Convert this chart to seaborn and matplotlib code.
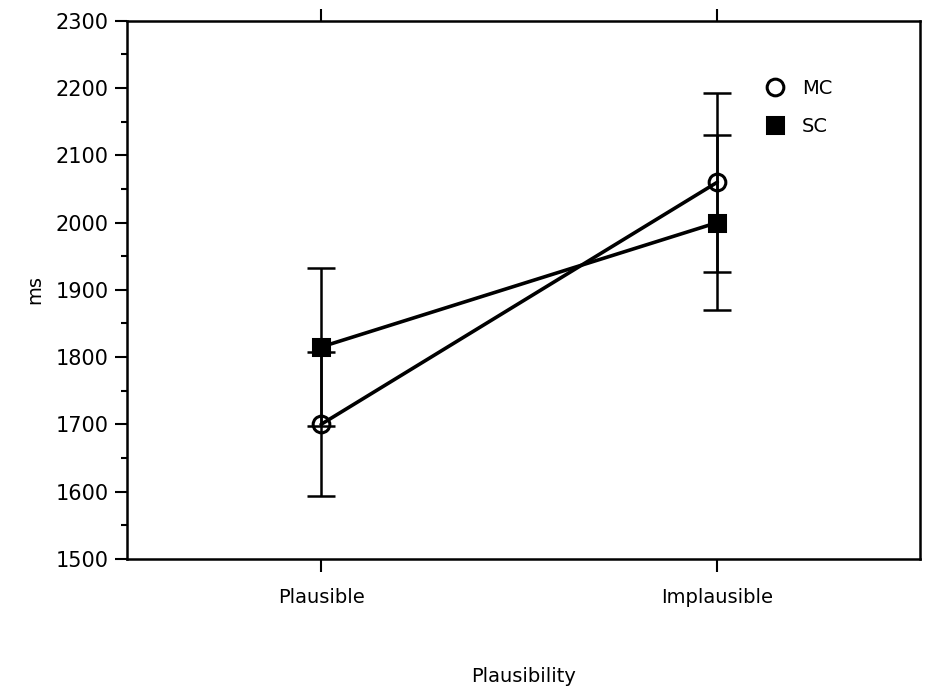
import matplotlib
matplotlib.use("Agg")
import matplotlib.pyplot as plt
import numpy as np
import pandas as pd
import seaborn as sns
from matplotlib.ticker import MultipleLocator

sns.set_theme(style="ticks")
plt.rcParams["font.family"] = ["DejaVu Sans"]
plt.rcParams["text.color"] = "black"
plt.rcParams["axes.labelcolor"] = "black"
plt.rcParams["xtick.color"] = "black"
plt.rcParams["ytick.color"] = "black"

# Daten
conditions = ["Plausible", "Implausible"]
groups = ["MC", "SC"]
mc_means = [1700, 2060]
sc_means = [1815, 2000]
mc_err = [107, 133]
sc_err = [118, 130]

df = pd.DataFrame({
    "pos": list(range(len(conditions))) * 2,
    "ms": mc_means + sc_means,
    "err": mc_err + sc_err,
    "group": [g for g in groups for _ in conditions],
})

fig = plt.figure(figsize=(9.26, 6.9), dpi=100)
ax = fig.add_axes([0.137, 0.19, 0.856, 0.78])

# Fehlerbalken zuerst, damit die Marker darüber liegen
for g in groups:
    sub = df[df["group"] == g]
    ax.errorbar(sub["pos"], sub["ms"], yerr=sub["err"], fmt="none",
                ecolor="black", elinewidth=1.8, capsize=10, capthick=1.8,
                zorder=1)

styles = {"MC": dict(marker="o", mfc="none"), "SC": dict(marker="s", mfc="black")}
for g in groups:
    sub = df[df["group"] == g]
    sns.lineplot(data=sub, x="pos", y="ms", ax=ax, color="black", lw=2.6,
                 marker=styles[g]["marker"], markersize=12,
                 markerfacecolor=styles[g]["mfc"], markeredgecolor="black",
                 markeredgewidth=2.2, label=g, zorder=3)

ax.set_xlim(-0.49, 1.51)
ax.set_ylim(1500, 2300)
ax.set_xticks(range(len(conditions)))
ax.set_xticklabels(conditions)
ax.yaxis.set_major_locator(MultipleLocator(100))
ax.yaxis.set_minor_locator(MultipleLocator(50))
ax.tick_params(axis="y", which="major", direction="out", length=9, width=1.5,
               labelsize=15, pad=4)
ax.tick_params(axis="y", which="minor", direction="out", length=4, width=1.5)
ax.tick_params(axis="x", which="major", direction="out", length=9, width=1.5,
               top=True, labelsize=14, pad=12)

for s in ax.spines.values():
    s.set_linewidth(1.8)
    s.set_color("black")

ax.set_xlabel("Plausibility", fontsize=14, labelpad=43)
ax.set_ylabel("ms", fontsize=14, labelpad=8)

leg = ax.legend(loc="upper left", bbox_to_anchor=(0.795, 0.925), frameon=False,
                fontsize=14, handlelength=0, handletextpad=1.4,
                labelspacing=1.0, markerscale=1.0)

plt.savefig("out.png", dpi=100)
plt.close()
